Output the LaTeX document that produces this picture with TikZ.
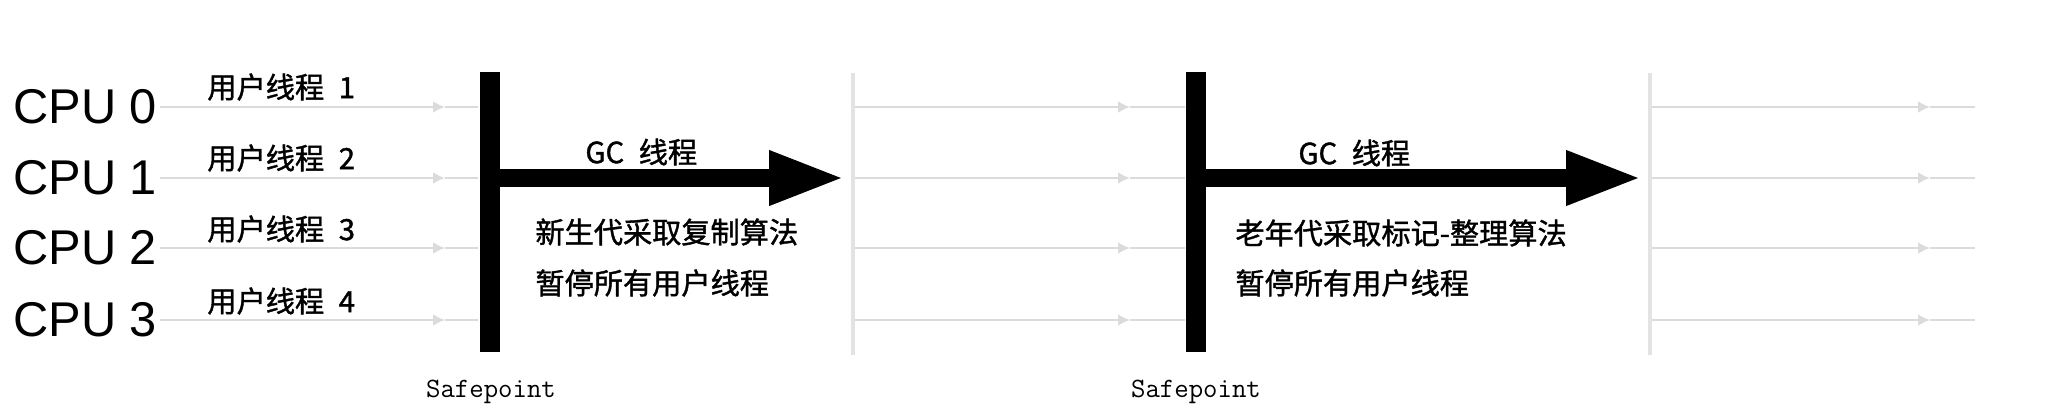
\documentclass[tikz,border=0pt]{standalone}
\usepackage{fontspec}
\setmainfont{Liberation Sans}
\newfontfamily\cjk[AutoFakeBold=1.3]{Noto Sans CJK SC}
\usetikzlibrary{arrows.meta}

\tikzset{
	cpulabel/.style={anchor=west, inner sep=0pt, font=\fontsize{24.4}{26}\selectfont},
	cjklabel/.style={anchor=west, inner sep=0pt, font=\cjk\bfseries\fontsize{14.6}{17}\selectfont},
	splabel/.style={inner sep=0pt, font=\ttfamily\fontsize{14}{16}\selectfont},
	spbar/.style={line width=10pt},
	gcarrow/.style={line width=9pt, -{Triangle[length=38pt, width=25pt]}},
	thread/.style={gray!28, line width=1.2pt},
	resume/.style={gray!22, line width=2pt},
}

\begin{document}
\begin{tikzpicture}[x=0.5pt, y=-0.5pt]
	\useasboundingbox (0, 0) rectangle (2054, 418);

	\foreach \k/\y in {0/107, 1/178, 2/248, 3/320} {
		\node[cpulabel] (cpu\k) at (13, \y) {CPU \k};
		\draw[thread, -{Latex[length=6pt, width=6pt]}] (160, \y) -- (445, \y);
		\draw[thread] (445, \y) -- (478, \y);
		\draw[thread, -{Latex[length=6pt, width=6pt]}] (855, \y) -- (1130, \y);
		\draw[thread] (1130, \y) -- (1185, \y);
		\draw[thread, -{Latex[length=6pt, width=6pt]}] (1652, \y) -- (1930, \y);
		\draw[thread] (1930, \y) -- (1975, \y);
	}
	\foreach \k/\y in {1/87, 2/158, 3/229, 4/301}
		\node[cjklabel] (user\k) at (207, \y) {用户线程\enspace{}\k};

	\coordinate (sp1top) at (490, 72);
	\coordinate (sp1bot) at (490, 352);
	\coordinate (sp1mid) at (485, 178);
	\coordinate (gc1end) at (845, 178);
	\coordinate (sp2top) at (1196, 72);
	\coordinate (sp2bot) at (1196, 352);
	\coordinate (sp2mid) at (1191, 178);
	\coordinate (gc2end) at (1642, 178);

	\draw[resume] (853, 73) -- (853, 355);
	\draw[resume] (1650, 73) -- (1650, 355);

	\draw[spbar] (sp1top) -- (sp1bot);
	\draw[gcarrow] (sp1mid) -- (gc1end);
	\node[splabel] (sp1) at (491, 392) {Safepoint};
	\node[cjklabel] (gc1) at (585, 152) {GC\enspace{}线程};
	\node[cjklabel] (young) at (535, 232) {新生代采取复制算法};
	\node[cjklabel] (pause1) at (535, 283) {暂停所有用户线程};

	\draw[spbar] (sp2top) -- (sp2bot);
	\draw[gcarrow] (sp2mid) -- (gc2end);
	\node[splabel] (sp2) at (1196, 392) {Safepoint};
	\node[cjklabel] (gc2) at (1298, 153) {GC\enspace{}线程};
	\node[cjklabel] (old) at (1235, 233) {老年代采取标记-整理算法};
	\node[cjklabel] (pause2) at (1235, 283) {暂停所有用户线程};
\end{tikzpicture}
\end{document}
